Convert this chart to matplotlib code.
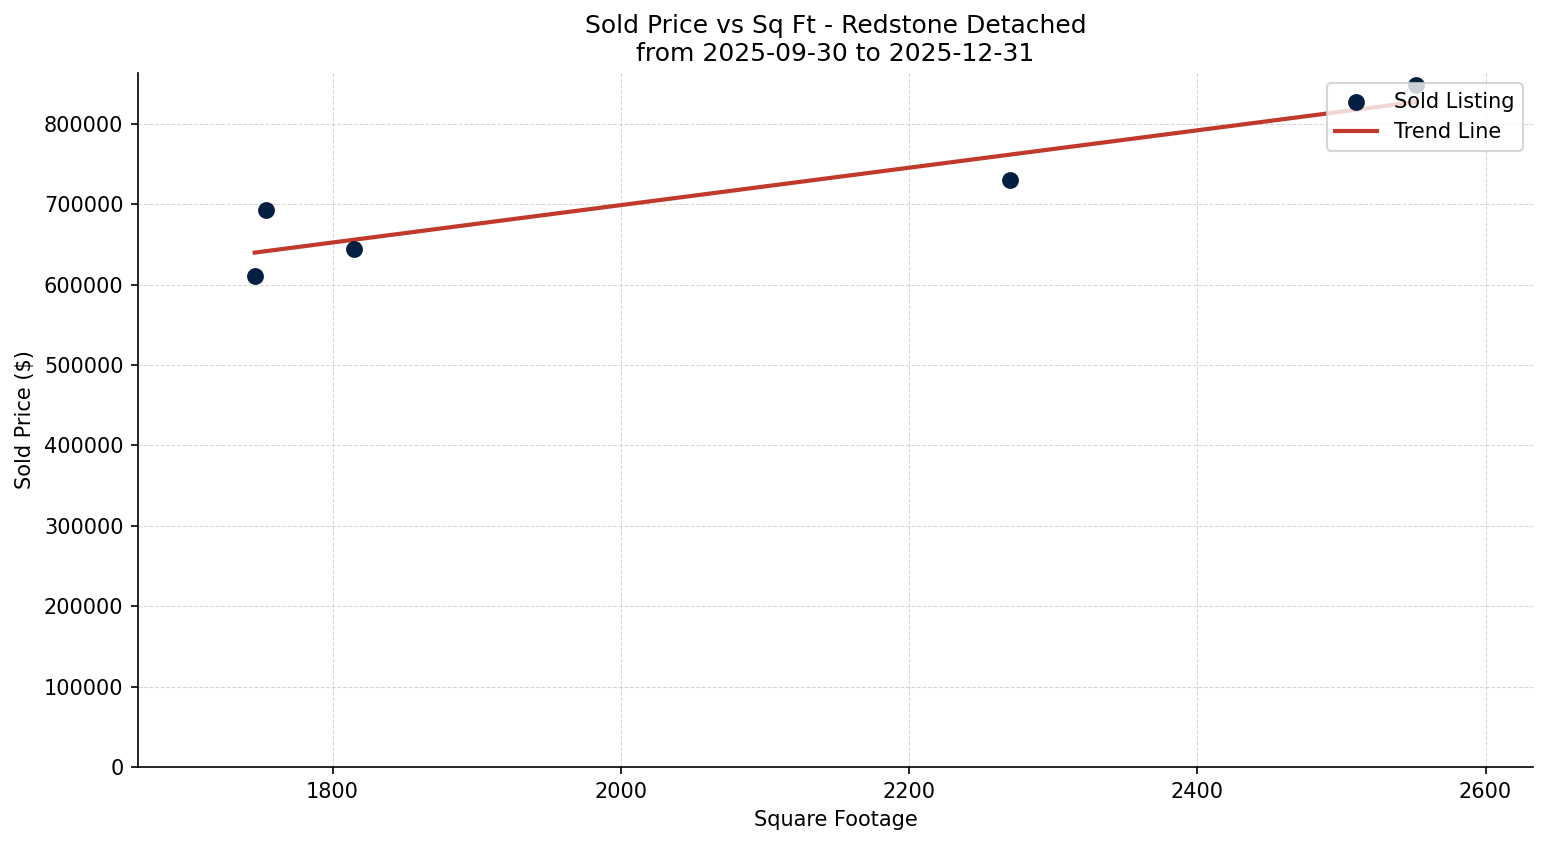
import numpy as np
import matplotlib
matplotlib.use('Agg')
import matplotlib.pyplot as plt

# sold listings
sqft = [1746, 1754, 1815, 2270, 2552]
soldPrice = [610500, 692500, 644500, 730000, 848000]

title = 'Sold Price vs Sq Ft - Redstone Detached\nfrom 2025-09-30 to 2025-12-31'

x = np.array(sqft)
y = np.array(soldPrice)

#simple linear trend
slope, intercept = np.polyfit(x, y, 1)
xLine = np.linspace(x.min(), x.max(), 100)
yLine = slope * xLine + intercept

fig, ax = plt.subplots(figsize=(1547/150, 845/150), dpi=150)
fig.subplots_adjust(left=0.0892, right=0.991, top=0.9136, bottom=0.0923)

ax.scatter(x, y, color='#041f41', s=50, zorder=3, label='Sold Listing')
ax.plot(xLine, yLine, color='#c0392b', linewidth=2, label='Trend Line')

ax.set_xlim(1665, 2633)
ax.set_ylim(0, 863000)
ax.set_title(title, fontsize=12)
ax.set_xlabel('Square Footage')
ax.set_ylabel('Sold Price ($)')
ax.grid(True, linestyle='--', linewidth=0.5, alpha=0.5)
ax.spines['top'].set_visible(False)
ax.spines['right'].set_visible(False)
ax.legend(loc='upper right')

fig.savefig('out.png', dpi=150)
